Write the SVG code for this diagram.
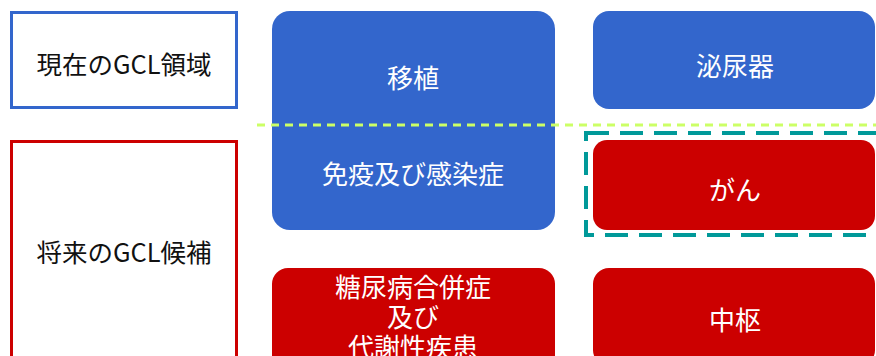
<svg xmlns="http://www.w3.org/2000/svg" width="876" height="356" viewBox="0 0 876 356">
<style>
text{font-family:"Noto Sans CJK JP","Noto Sans",sans-serif;font-size:26px;text-anchor:middle;dominant-baseline:central}
.w{fill:#ffffff}
.k{fill:#111111;font-size:25.5px}
.blue{fill:#3366cc}
.red{fill:#cc0000}
</style>
<rect width="876" height="356" fill="#ffffff"/>
<g id="current">
<rect x="11.5" y="12.5" width="225" height="95" fill="#ffffff" stroke="#3366cc" stroke-width="3"/>
<text class="k" x="124" y="62">現在のGCL領域</text>
</g>
<g id="future">
<rect x="11.5" y="141.5" width="225" height="240" fill="#ffffff" stroke="#cc0000" stroke-width="3"/>
<text class="k" x="124" y="250">将来のGCL候補</text>
</g>
<g id="transplant">
<rect class="blue" x="272" y="11" width="283" height="219" rx="18"/>
<text class="w" x="413" y="76">移植</text>
<text class="w" x="413" y="172">免疫及び感染症</text>
</g>
<g id="urology">
<rect class="blue" x="593" y="11" width="282" height="98" rx="16"/>
<text class="w" x="735" y="64">泌尿器</text>
</g>
<g id="cancer">
<rect class="red" x="593" y="140" width="282" height="90" rx="14"/>
<text class="w" x="735" y="188">がん</text>
</g>
<g id="diabetes">
<rect class="red" x="272" y="268" width="283" height="110" rx="16"/>
<text class="w" x="413" y="285">糖尿病合併症</text>
<text class="w" x="413" y="315">及び</text>
<text class="w" x="413" y="345">代謝性疾患</text>
</g>
<g id="cns">
<rect class="red" x="593" y="268" width="282" height="98" rx="16"/>
<text class="w" x="735" y="318">中枢</text>
</g>
<g id="connectors">
<line x1="257" y1="125" x2="876" y2="125" stroke="#ccff66" stroke-width="3" stroke-dasharray="8 6"/>
<rect x="586" y="133" width="310" height="102" fill="none" stroke="#009999" stroke-width="4" stroke-dasharray="23 11"/>
</g>
</svg>
